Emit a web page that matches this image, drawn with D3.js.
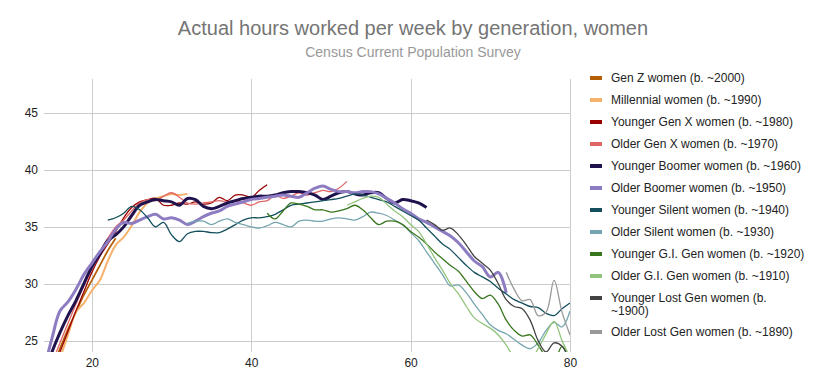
<!DOCTYPE html>
<html>
<head>
<meta charset="utf-8">
<script src="https://cdn.jsdelivr.net/npm/d3@7"></script>
<style>
  body { margin: 0; background: #fff; font-family: Arial, "Liberation Sans", sans-serif; }
  svg { display: block; }
</style>
</head>
<body>
<svg id="chart" width="826" height="387"></svg>
<script>
// --- Data (hours per week, one value per year of age) ---

const seriesNames = [
  "Gen Z women (b. ~2000)",
  "Millennial women (b. ~1990)",
  "Younger Gen X women (b. ~1980)",
  "Older Gen X women (b. ~1970)",
  "Younger Boomer women (b. ~1960)",
  "Older Boomer women (b. ~1950)",
  "Younger Silent women (b. ~1940)",
  "Older Silent women (b. ~1930)",
  "Younger G.I. Gen women (b. ~1920)",
  "Older G.I. Gen women (b. ~1910)",
  "Younger Lost Gen women (b. ~1900)",
  "Older Lost Gen women (b. ~1890)",
];

const firstAge = [15, 15, 15, 15, 14, 14, 22, 32, 42, 52, 62, 72];

const genZ = [22.5, 24.3, 26, 27.5, 29, 30.3, 31.6, 32.9, 34];
const millennial = [22, 23.5, 25.5, 27.5, 28.3, 29.4, 30.3, 32, 33.4, 34.1, 35.1, 36.3,
  37.1, 37.5, 37.7, 37.9, 37.8, 37.9];
const youngerGenX = [22.3, 24, 25.8, 27.6, 29.3, 31, 32.4, 33.5, 34.6, 35.8, 36.7, 37.2,
  37.4, 37.5, 36.9, 36.9, 37.1, 37, 37.2, 37, 37.1, 37.6, 37.3, 37.8, 37.8, 37.6, 38.2, 38.7];
const olderGenX = [23, 24.8, 26.5, 28.2, 29.8, 31.3, 32.8, 34, 35, 35.6, 36.4, 37.1,
  37.4, 37.3, 37.7, 38, 37.6, 37.1, 37, 37.1, 37.2, 37.3, 37.2, 37.3, 37.1, 36.9, 37.2,
  37.3, 37.8, 37.5, 37.7, 38, 37.8, 38, 38.2, 38.1, 38.4, 39];
const youngerBoomer = [22, 24, 25.7, 27.2, 28.5, 30, 31.5, 32.6, 33.8, 34.3, 35, 36,
  36.9, 37.2, 37.4, 37.3, 37.2, 36.9, 37.5, 37.4, 36.8, 36.6, 36.8, 37.1, 37.3, 37.5,
  37.6, 37.7, 37.7, 37.8, 38, 38.1, 38.1, 38, 37.8, 37.4, 37.7, 38, 38.1, 37.9, 37.8,
  38, 38, 37.5, 37.1, 37.4, 37.3, 37.1, 36.7];
const olderBoomer = [22.5, 25.2, 27.6, 28.4, 29.5, 30.8, 31.8, 32.8, 33.7, 34.8, 35.4,
  35.3, 35.6, 35.9, 36.1, 35.7, 35.8, 35.6, 35.2, 35.5, 35.9, 36.2, 36.4, 36.8, 37, 37.2,
  37.4, 37.5, 37.6, 37.7, 37.8, 37.7, 37.6, 38, 38.4, 38.6, 38.3, 38.1, 38.1, 38, 38.1,
  38.1, 37.9, 37.5, 37.1, 36.6, 36.2, 35.7, 35.4, 35, 34.6, 34.2, 33.6, 32.8, 32, 31.5,
  30.6, 31, 29.2];
const youngerSilent = [35.6, 35.8, 36.2, 36.8, 36.5, 35.8, 35, 35.4, 34.3, 33.7, 34.4,
  34.6, 34.6, 34.5, 34.5, 34.8, 35.2, 35.6, 35.8, 35.8, 35.9, 36.1, 36.5, 36.9, 37, 37.1,
  37.2, 37.3, 37.4, 37.5, 37.7, 37.9, 37.8, 37.6, 37.4, 37.2, 36.8, 36.4, 36, 35.6, 34.9,
  34.2, 33.5, 33, 32.3, 31.6, 31, 30.6, 30.2, 29.6, 29.1, 28.6, 28.3, 28, 27.9, 27.4,
  27.2, 27.8, 28.3];
const olderSilent = [35.3, 35.5, 35.5, 35.2, 35.5, 35.7, 35.4, 35.2, 35, 34.9, 35.1,
  35.4, 35.2, 35, 35.5, 35.6, 35.5, 35.5, 35.7, 35.8, 35.7, 35.6, 35.9, 36.3, 36.2, 36,
  35.6, 35.2, 34.5, 33.8, 32.8, 31.8, 30.8, 29.8, 29.9, 29.2, 28.2, 27.3, 26.4, 25.9,
  25.6, 25.1, 24.6, 24.3, 24.8, 25.9, 26.6, 26.2, 27.6];
const youngerGI = [36.2, 35.7, 36.4, 37.1, 37, 36.8, 36.5, 36.5, 36.3, 36.4, 36.6, 36.9,
  36.5, 35.8, 35.2, 35.5, 35.5, 35.2, 34.6, 34.1, 33.5, 32.8, 32.2, 31.6, 31.1, 30.2,
  29.3, 28.7, 29, 28.2, 26.8, 25.9, 25.4, 25.5, 24.6, 23.6, 23.2, 24.5, 23];
const olderGI = [36.9, 37.2, 37.5, 37.7, 37.6, 37, 36.4, 35.9, 35.2, 34.6, 33.5, 32.3,
  31.2, 30, 29.1, 28, 27, 26.5, 26.1, 25.5, 24.6, 23.5, 23, 23.2, 24.3, 25.6, 26.7, 25, 23.5];
const youngerLost = [35.6, 35.2, 34.7, 34.9, 34.3, 33.4, 32.4, 31.8, 31.2, 30, 28.6, 28,
  27.8, 26.8, 25, 24, 24.8, 24.5, 23];
const olderLost = [31, 29.5, 28.5, 28.6, 27.2, 27.5, 30.3, 27.5, 25.5];

const seriesValues = [genZ, millennial, youngerGenX, olderGenX, youngerBoomer, olderBoomer,
  youngerSilent, olderSilent, youngerGI, olderGI, youngerLost, olderLost];

const seriesColors = ["#b45f06", "#f6b26b", "#990000", "#e06666", "#20124d", "#8e7cc3",
  "#134f5c", "#76a5af", "#38761d", "#93c47d", "#434343", "#999999"];

const xTicks = [20, 40, 60, 80];
const yTicks = [25, 30, 35, 40, 45];

// --- Layout ---

const plot = { left: 44, right: 570, top: 79, bottom: 352 };

const svg = d3.select("#chart");

const x = d3.scaleLinear().domain([14, 80]).range([plot.left, plot.right]);
const y = d3.scaleLinear().domain([24, 48]).range([plot.bottom, plot.top]);

// Title
svg.append("text")
  .attr("x", 413).attr("y", 35)
  .attr("text-anchor", "middle")
  .attr("font-size", 20)
  .attr("fill", "#757575")
  .text("Actual hours worked per week by generation, women");

svg.append("text")
  .attr("x", 413).attr("y", 57)
  .attr("text-anchor", "middle")
  .attr("font-size", 14)
  .attr("fill", "#999999")
  .text("Census Current Population Survey");

// Grid
const grid = svg.append("g");
grid.selectAll("line.h")
  .data(yTicks)
  .join("line")
  .attr("x1", plot.left).attr("x2", plot.right)
  .attr("y1", (d) => Math.round(y(d)) + 0.5)
  .attr("y2", (d) => Math.round(y(d)) + 0.5)
  .attr("stroke", "#cccccc");

grid.selectAll("line.v")
  .data(xTicks)
  .join("line")
  .attr("x1", (d) => Math.round(x(d)) + 0.5)
  .attr("x2", (d) => Math.round(x(d)) + 0.5)
  .attr("y1", plot.top).attr("y2", plot.bottom)
  .attr("stroke", "#cccccc");

// Axes (labels only)
const yAxis = svg.append("g")
  .attr("transform", `translate(${plot.left - 6},0)`)
  .call(d3.axisLeft(y).tickValues(yTicks).tickSize(0).tickPadding(0));
const xAxis = svg.append("g")
  .attr("transform", `translate(0,${plot.bottom})`)
  .call(d3.axisBottom(x).tickValues(xTicks).tickSize(0).tickPadding(6));

for (const ax of [xAxis, yAxis]) {
  ax.select(".domain").remove();
  ax.selectAll("text")
    .attr("font-family", "Arial, 'Liberation Sans', sans-serif")
    .attr("font-size", 12)
    .attr("fill", "#222222");
}
xAxis.selectAll("text").attr("dy", "0.71em").attr("y", 6);

// Lines
svg.append("clipPath")
  .attr("id", "plot-clip")
  .append("rect")
  .attr("x", plot.left).attr("y", plot.top)
  .attr("width", plot.right - plot.left)
  .attr("height", plot.bottom - plot.top);

const line = d3.line()
  .x((d) => x(d[0]))
  .y((d) => y(d[1]))
  .curve(d3.curveCatmullRom.alpha(0.5));

const series = seriesValues.map((vals, i) => ({
  name: seriesNames[i],
  color: seriesColors[i],
  width: i === 4 || i === 5 ? 3 : i === 1 ? 2 : i === 0 ? 1.7 : 1.3,
  points: vals.map((v, j) => [firstAge[i] + j, v]),
}));

svg.append("g")
  .attr("clip-path", "url(#plot-clip)")
  .selectAll("path")
  .data(series)
  .join("path")
  .attr("fill", "none")
  .attr("stroke", (d) => d.color)
  .attr("stroke-width", (d) => d.width)
  .attr("stroke-linejoin", "round")
  .attr("d", (d) => line(d.points));

// Legend
const legend = svg.append("g").attr("transform", "translate(590,0)");
let rowY = 78;
series.forEach((s) => {
  const item = legend.append("g");
  item.append("rect")
    .attr("x", 0).attr("y", rowY - 2)
    .attr("width", 12).attr("height", 4)
    .attr("fill", s.color);

  const text = item.append("text")
    .attr("x", 21).attr("y", rowY + 4)
    .attr("font-size", 12)
    .attr("fill", "#222222");

  // wrap long labels
  const words = s.name.split(" ");
  let lineWords = [];
  let lines = 0;
  let tspan = text.append("tspan").attr("x", 21);
  for (const w of words) {
    lineWords.push(w);
    tspan.text(lineWords.join(" "));
    if (tspan.node().getComputedTextLength() > 194 && lineWords.length > 1) {
      lineWords.pop();
      tspan.text(lineWords.join(" "));
      lineWords = [w];
      lines++;
      tspan = text.append("tspan").attr("x", 21).attr("dy", 13).text(w);
    }
  }
  rowY += 22 + lines * 12;
});
</script>
</body>
</html>
